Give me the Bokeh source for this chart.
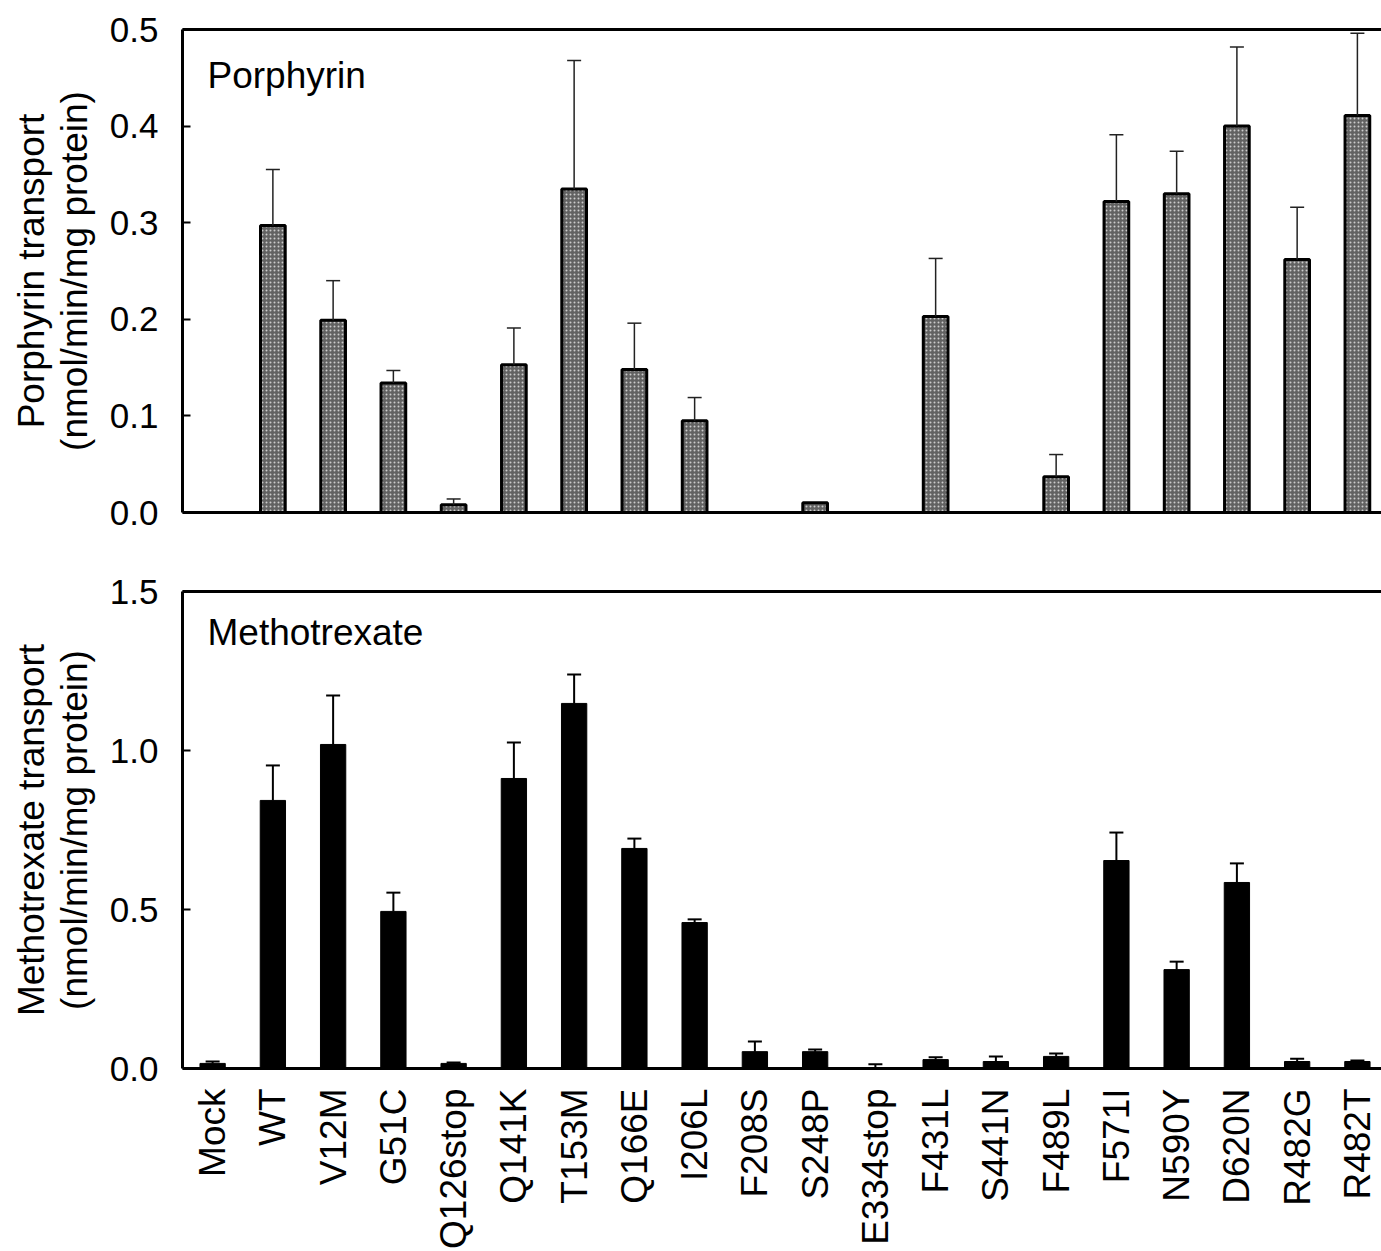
from math import pi
from bokeh.plotting import figure
from bokeh.layouts import column
from bokeh.models import (Range1d, FixedTicker, LinearAxis, Label, Whisker,
                          ColumnDataSource, TeeHead, PrintfTickFormatter)
from bokeh.embed import file_html
from bokeh.resources import INLINE

categories = ["Mock", "WT", "V12M", "G51C", "Q126stop", "Q141K", "T153M", "Q166E",
              "I206L", "F208S", "S248P", "E334stop", "F431L", "S441N", "F489L",
              "F571I", "N590Y", "D620N", "R482G", "R482T"]

porphyrin = [None, 0.297, 0.199, 0.134, 0.008, 0.153, 0.335, 0.148, 0.095, None,
             0.010, None, 0.203, None, 0.037, 0.322, 0.330, 0.400, 0.262, 0.411]
porphyrin_err = [None, 0.058, 0.041, 0.013, 0.006, 0.038, 0.133, 0.048, 0.024, None,
                 0.0, None, 0.060, None, 0.023, 0.069, 0.044, 0.082, 0.054, 0.085]

methotrexate = [0.016, 0.843, 1.019, 0.494, 0.016, 0.912, 1.148, 0.692, 0.459, 0.053,
                0.053, 0.003, 0.028, 0.022, 0.038, 0.654, 0.311, 0.585, 0.022, 0.022]
methotrexate_err = [0.006, 0.110, 0.154, 0.059, 0.003, 0.113, 0.091, 0.031, 0.010, 0.032,
                    0.007, 0.010, 0.007, 0.016, 0.009, 0.088, 0.025, 0.060, 0.009, 0.003]

porph_ticks = [0.0, 0.1, 0.2, 0.3, 0.4, 0.5]
mtx_ticks = [0.0, 0.5, 1.0, 1.5]

FONT = "Liberation Sans"
FS = "35px"
FS_BIG = "37px"


def style_left(ax, ticks):
    ax.ticker = FixedTicker(ticks=ticks)
    ax.formatter = PrintfTickFormatter(format="%.1f")
    ax.axis_line_width = 3
    ax.axis_line_color = "black"
    ax.major_tick_in = 8
    ax.major_tick_out = 0
    ax.major_tick_line_width = 2
    ax.minor_tick_line_color = None
    ax.major_label_text_font = FONT
    ax.major_label_text_font_size = FS
    ax.major_label_text_color = "black"
    ax.major_label_standoff = 24
    ax.axis_label_text_font = FONT
    ax.axis_label_text_font_size = FS_BIG
    ax.axis_label_text_font_style = "normal"
    ax.axis_label_text_color = "black"
    ax.axis_label_text_line_height = 1.05
    ax.axis_label_standoff = 12


def bare_axis(ax):
    ax.ticker = FixedTicker(ticks=[])
    ax.axis_line_width = 3
    ax.axis_line_color = "black"
    ax.major_tick_line_color = None
    ax.minor_tick_line_color = None


def make_fig(yr, fh, top_border, bottom_border):
    p = figure(output_backend="svg", toolbar_location=None,
               x_range=Range1d(-0.5, 19.4), y_range=yr,
               frame_width=1199, frame_height=fh,
               min_border_left=182, min_border_right=0,
               min_border_top=top_border, min_border_bottom=bottom_border,
               outline_line_color=None, background_fill_color="white",
               border_fill_color="white")
    p.xgrid.visible = False
    p.ygrid.visible = False
    return p


# ---- top panel: porphyrin ----
p1 = make_fig(Range1d(0, 0.5), 483, 29, 36)
idx = [i for i, v in enumerate(porphyrin) if v is not None]
src1 = ColumnDataSource(dict(x=idx, top=[porphyrin[i] for i in idx]))
p1.vbar(x="x", top="top", bottom=0, width=0.41, source=src1,
        fill_color="#626262", hatch_pattern="dot", hatch_color="#cccccc",
        hatch_scale=4, hatch_weight=1, line_color="black", line_width=3)
eidx = [i for i in idx if porphyrin_err[i] > 0]
esrc1 = ColumnDataSource(dict(x=eidx, lower=[porphyrin[i] for i in eidx],
                              upper=[porphyrin[i] + porphyrin_err[i] for i in eidx]))
p1.add_layout(Whisker(base="x", lower="lower", upper="upper", source=esrc1,
                      line_color="#222222", line_width=1.5, lower_head=None,
                      upper_head=TeeHead(size=14, line_width=1.5, line_color="#222222"),
                      level="overlay"))
style_left(p1.yaxis[0], porph_ticks)
p1.yaxis[0].axis_label = "Porphyrin transport\n(nmol/min/mg protein)"
bare_axis(p1.xaxis[0])
top1 = LinearAxis()
bare_axis(top1)
p1.add_layout(top1, "above")
p1.add_layout(Label(x=-0.085, y=0.452, text="Porphyrin", text_font=FONT,
                    text_font_size=FS_BIG, text_baseline="middle", text_color="black"))

# ---- bottom panel: methotrexate ----
p2 = make_fig(Range1d(0, 1.5), 477, 43, 20)
xs = list(range(len(categories)))
src2 = ColumnDataSource(dict(x=xs, top=methotrexate))
p2.vbar(x="x", top="top", bottom=0, width=0.42, source=src2,
        fill_color="black", line_color="black", line_width=1)
esrc2 = ColumnDataSource(dict(x=xs, lower=methotrexate,
                              upper=[v + e for v, e in zip(methotrexate, methotrexate_err)]))
p2.add_layout(Whisker(base="x", lower="lower", upper="upper", source=esrc2,
                      line_color="black", line_width=2, lower_head=None,
                      upper_head=TeeHead(size=14, line_width=2, line_color="black"),
                      level="overlay"))
style_left(p2.yaxis[0], mtx_ticks)
p2.yaxis[0].axis_label = "Methotrexate transport\n(nmol/min/mg protein)"
xa = p2.xaxis[0]
xa.ticker = FixedTicker(ticks=xs)
xa.major_label_overrides = {i: c for i, c in enumerate(categories)}
xa.major_label_orientation = pi / 2
xa.major_label_text_font = FONT
xa.major_label_text_font_size = FS_BIG
xa.major_label_text_color = "black"
xa.major_label_standoff = 14
xa.axis_line_width = 3
xa.axis_line_color = "black"
xa.major_tick_line_color = None
xa.minor_tick_line_color = None
top2 = LinearAxis()
bare_axis(top2)
p2.add_layout(top2, "above")
p2.add_layout(Label(x=-0.085, y=1.371, text="Methotrexate", text_font=FONT,
                    text_font_size=FS_BIG, text_baseline="middle", text_color="black"))

layout = column(p1, p2, spacing=0)
open("out.html", "w").write(file_html(layout, INLINE))
